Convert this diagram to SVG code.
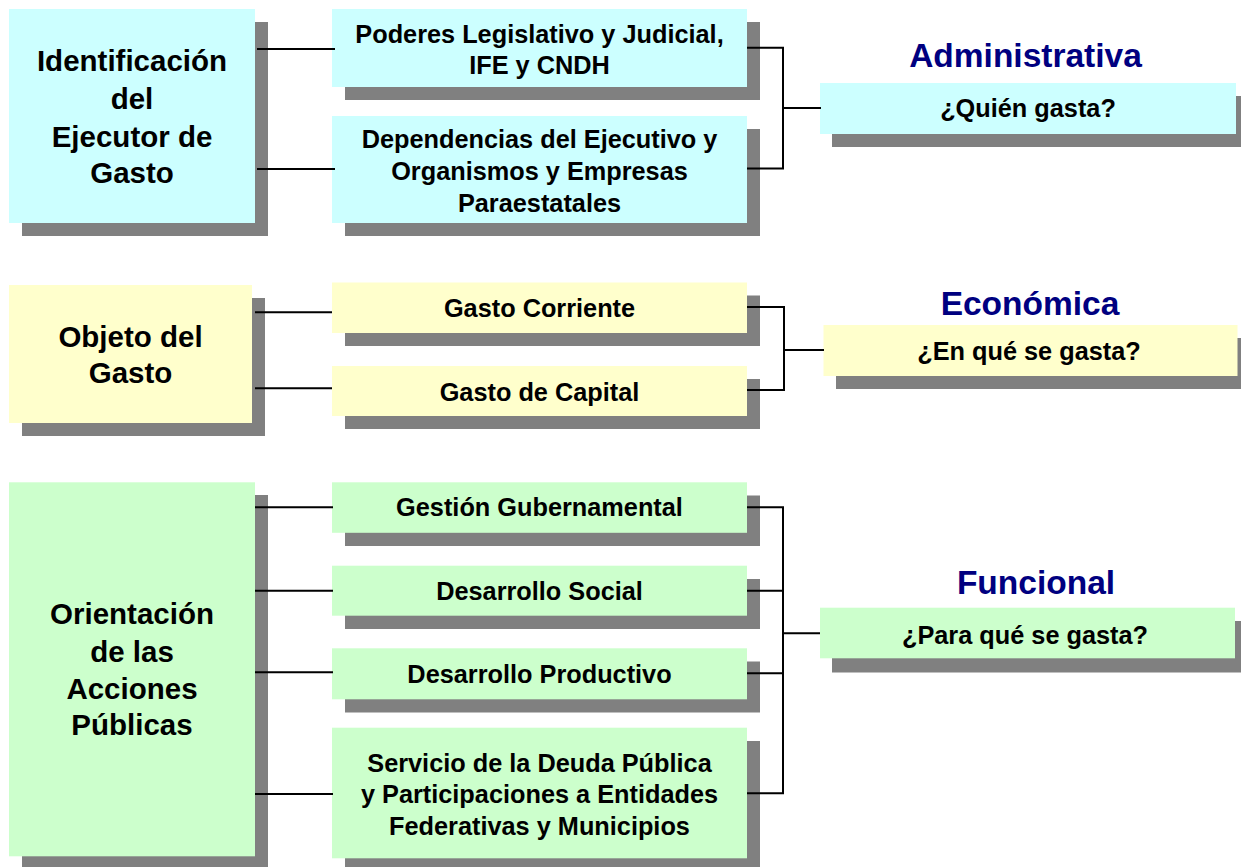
<svg xmlns="http://www.w3.org/2000/svg" width="1241" height="867" viewBox="0 0 1241 867">
<style>
.sh{fill:#808080}
.cy{fill:#CCFFFF}
.ye{fill:#FFFFCC}
.gr{fill:#CCFFCC}
text{font-family:"Liberation Sans",Arial,sans-serif;font-weight:bold;text-anchor:middle;fill:#000}
.big{font-size:29.5px}
.mid{font-size:25.3px}
.ttl{font-size:33.5px;fill:#000080}
.cn{fill:none;stroke:#000;stroke-width:2}
</style>
<rect width="1241" height="867" fill="#fff"/>

<g id="n-identificacion">
<rect class="sh" x="22" y="22" width="246" height="214"/>
<rect class="cy" x="9" y="9" width="246" height="214"/>
<text class="big" x="132" y="71">Identificación</text>
<text class="big" x="132" y="109">del</text>
<text class="big" x="132" y="147">Ejecutor de</text>
<text class="big" x="132" y="183">Gasto</text>
</g>

<g id="n-poderes">
<rect class="sh" x="345" y="22" width="415" height="78"/>
<rect class="cy" x="332" y="9" width="415" height="78"/>
<text class="mid" x="539.5" y="43">Poderes Legislativo y Judicial,</text>
<text class="mid" x="539.5" y="74">IFE y CNDH</text>
</g>

<g id="n-dependencias">
<rect class="sh" x="345" y="129" width="415" height="107"/>
<rect class="cy" x="332" y="116" width="415" height="107"/>
<text class="mid" x="539.5" y="148">Dependencias del Ejecutivo y</text>
<text class="mid" x="539.5" y="180">Organismos y Empresas</text>
<text class="mid" x="539.5" y="211.5">Paraestatales</text>
</g>

<g id="n-administrativa">
<text class="ttl" x="1025.5" y="67">Administrativa</text>
<rect class="sh" x="832" y="96" width="416" height="51"/>
<rect class="cy" x="820" y="83" width="416" height="51"/>
<text class="mid" x="1028" y="117">¿Quién gasta?</text>
</g>

<g id="n-objeto">
<rect class="sh" x="22" y="298" width="243" height="138"/>
<rect class="ye" x="9" y="285" width="243" height="138"/>
<text class="big" x="130.5" y="347">Objeto del</text>
<text class="big" x="130.5" y="383">Gasto</text>
</g>

<g id="n-corriente">
<rect class="sh" x="345" y="295.5" width="415" height="50.5"/>
<rect class="ye" x="332" y="282.5" width="415" height="50.5"/>
<text class="mid" x="539.5" y="316.7">Gasto Corriente</text>
</g>

<g id="n-capital">
<rect class="sh" x="345" y="379" width="415" height="50"/>
<rect class="ye" x="332" y="366" width="415" height="50"/>
<text class="mid" x="539.5" y="400.7">Gasto de Capital</text>
</g>

<g id="n-economica">
<text class="ttl" x="1030" y="315">Económica</text>
<rect class="sh" x="836" y="338" width="415" height="51"/>
<rect class="ye" x="823.5" y="325" width="414" height="51"/>
<text class="mid" x="1029" y="360">¿En qué se gasta?</text>
</g>

<g id="n-orientacion">
<rect class="sh" x="22" y="495" width="246" height="374"/>
<rect class="gr" x="9" y="482.3" width="246" height="374"/>
<text class="big" x="132" y="624">Orientación</text>
<text class="big" x="132" y="662">de las</text>
<text class="big" x="132" y="699">Acciones</text>
<text class="big" x="132" y="735">Públicas</text>
</g>

<g id="n-gestion">
<rect class="sh" x="345" y="495.5" width="415" height="50.5"/>
<rect class="gr" x="332" y="482.3" width="415" height="50.5"/>
<text class="mid" x="539.5" y="515.7">Gestión Gubernamental</text>
</g>

<g id="n-social">
<rect class="sh" x="345" y="579" width="415" height="50"/>
<rect class="gr" x="332" y="565.7" width="415" height="50"/>
<text class="mid" x="539.5" y="600">Desarrollo Social</text>
</g>

<g id="n-productivo">
<rect class="sh" x="345" y="661.5" width="415" height="51"/>
<rect class="gr" x="332" y="648.3" width="415" height="51"/>
<text class="mid" x="539.5" y="683.3">Desarrollo Productivo</text>
</g>

<g id="n-deuda">
<rect class="sh" x="345" y="741" width="415" height="131"/>
<rect class="gr" x="332" y="727.7" width="415" height="130.6"/>
<text class="mid" x="539.5" y="771.7">Servicio de la Deuda Pública</text>
<text class="mid" x="539.5" y="803.3">y Participaciones a Entidades</text>
<text class="mid" x="539.5" y="835">Federativas y Municipios</text>
</g>

<g id="n-funcional">
<text class="ttl" x="1036" y="594">Funcional</text>
<rect class="sh" x="832" y="621" width="416" height="51.5"/>
<rect class="gr" x="820" y="607.7" width="415" height="50.6"/>
<text class="mid" x="1025" y="644.3">¿Para qué se gasta?</text>
</g>

<g id="connectors">
<path class="cn" d="M257 49H335M257 169H335"/>
<path class="cn" d="M747 47.7H783V168.5H747M783 108H821"/>
<path class="cn" d="M255 312.3H332M255 388.3H332"/>
<path class="cn" d="M747 307H784V390H747M784 350H824"/>
<path class="cn" d="M255 507.3H333M255 590.7H333M255 672.3H333M255 794H333"/>
<path class="cn" d="M747 507.3H783V793.3H747M747 590.7H783M747 673.3H783M783 633.3H820"/>
</g>
</svg>
